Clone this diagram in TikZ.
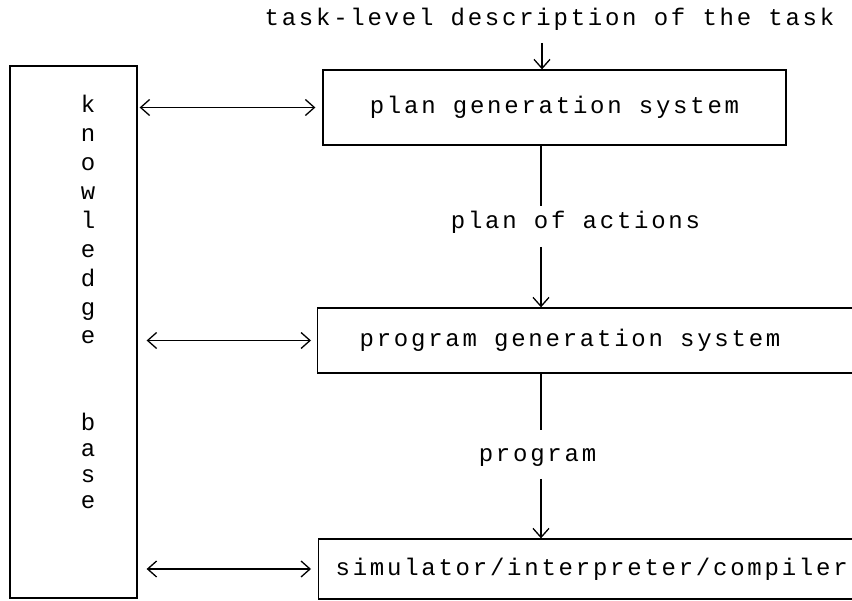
\documentclass[tikz,border=0pt]{standalone}
\usepackage{fontspec}
\usetikzlibrary{arrows.meta}
\newfontfamily\typewr[LetterSpace=11.5]{Liberation Mono}
\newcommand\plainspace{\spaceskip=0pt\relax}

\begin{document}
\begin{tikzpicture}
[x=1pt,y=1pt,line width=1.3pt,
 font=\typewr\fontsize{24}{29}\selectfont,
 box/.style={draw,anchor=west,align=left,execute at begin node=\plainspace},
 link/.style={{Straight Barb[length=9pt,width=16pt]}-{Straight Barb[length=9pt,width=16pt]}},
 flow/.style={-{Straight Barb[length=9pt,width=16pt]}}]
 \clip (0,0) rectangle (852,-601);

 \node (kb) [draw,minimum width=127pt,minimum height=532pt] at (73.5,-332) {};
 \node (kbtxt) [anchor=base,align=center,inner sep=0pt] at (88,-509)
   {k\\n\\o\\w\\l\\e\\d\\g\\e\\ \\ \\b\\[-3pt]a\\[-3pt]s\\[-3pt]e};

 \node (task) at (549.5,-19) {task-level description of the task};
 \node (plan) [draw,minimum width=463pt,minimum height=75pt] at (554.5,-107.5) {plan generation system};
 \node (prog) [box,text width=500pt,inner xsep=42pt,minimum height=65pt] at (317,-340.5) {program generation system};
 \node (sim) [box,text width=540pt,inner xsep=17pt,minimum height=60pt] at (318,-569) {simulator/interpreter/compiler};

 \node (poa) at (575.5,-222) {plan of actions};
 \node (prg) at (537.5,-458) {program};

 \coordinate (in) at (542,-43);
 \coordinate (a1) at (541,-206);
 \coordinate (a2) at (541,-247);
 \coordinate (b1) at (541,-430);
 \coordinate (b2) at (541,-479);

 \draw[flow] (in) -- (in |- plan.north);
 \draw (a1 |- plan.south) -- (a1);
 \draw[flow] (a2) -- (a2 |- prog.north);
 \draw (b1 |- prog.south) -- (b1);
 \draw[flow] (b2) -- (b2 |- sim.north);

 \draw[link,shorten <=2pt,shorten >=7pt] (plan.west -| kb.east) -- (plan.west);
 \draw[link,shorten <=9pt,shorten >=6pt] (prog.west -| kb.east) -- (prog.west);
 \draw[link,shorten <=9pt,shorten >=7pt] (sim.west -| kb.east) -- (sim.west);
\end{tikzpicture}
\end{document}
